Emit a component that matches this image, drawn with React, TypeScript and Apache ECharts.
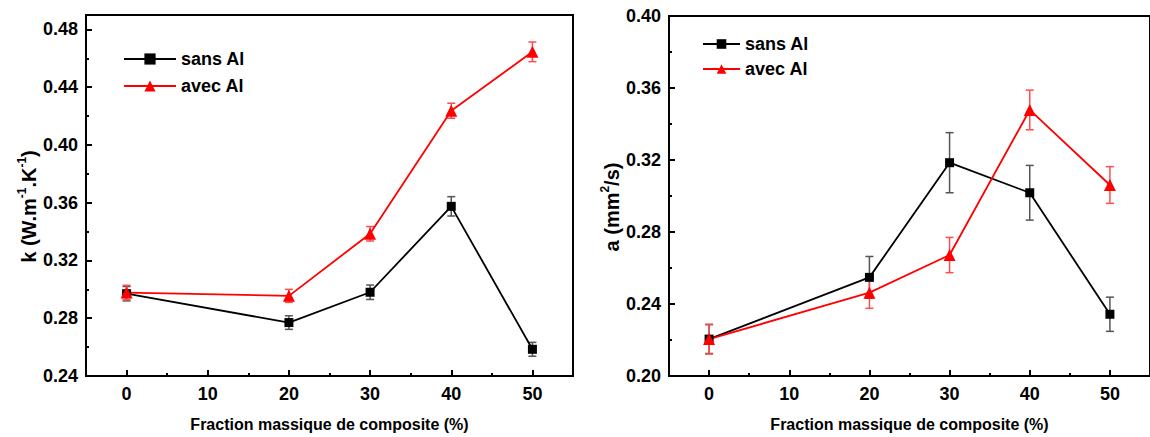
import React, { useEffect, useRef } from "react";
import * as echarts from "echarts";

const fractions = [0, 20, 30, 40, 50];
const xMajorTicks = [0, 10, 20, 30, 40, 50];
const xMinorTicks = [5, 15, 25, 35, 45];

const kSans = [0.297, 0.277, 0.298, 0.3575, 0.2585];
const kSansErr = [0.005, 0.0047, 0.005, 0.0067, 0.0048];
const kAvec = [0.2978, 0.2955, 0.3385, 0.4237, 0.4645];
const kAvecErr = [0.005, 0.0045, 0.005, 0.0052, 0.0068];
const kMajorTicks = [0.24, 0.28, 0.32, 0.36, 0.4, 0.44, 0.48];
const kMinorTicks = [0.26, 0.3, 0.34, 0.38, 0.42, 0.46];

const aSans = [0.2205, 0.2548, 0.3185, 0.3018, 0.2343];
const aSansErr = [0.008, 0.0116, 0.0167, 0.0152, 0.0095];
const aAvec = [0.2205, 0.2463, 0.2672, 0.3478, 0.3061];
const aAvecErr = [0.0083, 0.0087, 0.0098, 0.011, 0.0102];
const aMajorTicks = [0.2, 0.24, 0.28, 0.32, 0.36, 0.4];
const aMinorTicks = [0.22, 0.26, 0.3, 0.34, 0.38];

const FONT = "'Liberation Sans', Arial, sans-serif";

function pairs(xs: number[], ys: number[]) {
  return xs.map((x, i) => [x, ys[i]]);
}
function errData(xs: number[], ys: number[], es: number[]) {
  return xs.map((x, i) => [x, ys[i] - es[i], ys[i] + es[i]]);
}

function errSeries(data: number[][], color: string, xi: number, yi: number) {
  return {
    type: "custom",
    xAxisIndex: xi,
    yAxisIndex: yi,
    data,
    encode: { x: 0, y: [1, 2] },
    z: 1,
    silent: true,
    renderItem: (params: any, api: any) => {
      const x = api.value(0);
      const lo = api.value(1);
      const hi = api.value(2);
      const t = api.coord([x, hi]);
      const b = api.coord([x, lo]);
      const w = 4;
      const style = { stroke: color, lineWidth: 1.5 };
      return {
        type: "group",
        children: [
          { type: "line", shape: { x1: t[0], y1: t[1], x2: b[0], y2: b[1] }, style },
          { type: "line", shape: { x1: t[0] - w, y1: t[1], x2: t[0] + w, y2: t[1] }, style },
          { type: "line", shape: { x1: b[0] - w, y1: b[1], x2: b[0] + w, y2: b[1] }, style },
        ],
      };
    },
  };
}

function mainX(gridIndex: number, name: string) {
  return {
    type: "value",
    gridIndex,
    min: -5,
    max: 55,
    position: "bottom",
    name,
    nameLocation: "middle",
    nameGap: 40,
    nameTextStyle: { fontFamily: FONT, fontSize: 16, fontWeight: "bold", color: "#000" },
    axisLine: { show: true, onZero: false, lineStyle: { color: "#000", width: 2 } },
    axisTick: { show: true, inside: true, length: 6, customValues: xMajorTicks, lineStyle: { color: "#000", width: 2 } },
    axisLabel: {
      show: true,
      customValues: xMajorTicks,
      margin: 9,
      fontFamily: FONT,
      fontSize: 18,
      fontWeight: "bold",
      color: "#000",
    },
    splitLine: { show: false },
  };
}
function minorX(gridIndex: number) {
  return {
    type: "value",
    gridIndex,
    min: -5,
    max: 55,
    position: "bottom",
    axisLine: { show: false, onZero: false },
    axisTick: { show: true, inside: true, length: 3, customValues: xMinorTicks, lineStyle: { color: "#000", width: 2 } },
    axisLabel: { show: false },
    splitLine: { show: false },
  };
}
function mainY(gridIndex: number, min: number, max: number, ticks: number[], name: string, nameGap: number, shift: number) {
  return {
    type: "value",
    gridIndex,
    min,
    max,
    position: "left",
    name,
    nameLocation: "middle",
    nameGap,
    nameTextStyle: {
      fontFamily: FONT,
      fontSize: 20,
      fontWeight: "bold",
      color: "#000",
      padding: [0, shift, 0, 0],
      rich: {
        m: { fontFamily: FONT, fontSize: 20, fontWeight: "bold", color: "#000", lineHeight: 26, verticalAlign: "middle" },
        s: { fontFamily: FONT, fontSize: 12, fontWeight: "bold", color: "#000", lineHeight: 12, verticalAlign: "top" },
      },
    },
    axisLine: { show: true, onZero: false, lineStyle: { color: "#000", width: 2 } },
    axisTick: { show: true, inside: true, length: 6, customValues: ticks, lineStyle: { color: "#000", width: 2 } },
    axisLabel: {
      show: true,
      customValues: ticks,
      margin: 8,
      fontFamily: FONT,
      fontSize: 18,
      fontWeight: "bold",
      color: "#000",
      formatter: (v: number) => v.toFixed(2),
    },
    splitLine: { show: false },
  };
}
function minorY(gridIndex: number, min: number, max: number, ticks: number[]) {
  return {
    type: "value",
    gridIndex,
    min,
    max,
    position: "left",
    axisLine: { show: false, onZero: false },
    axisTick: { show: true, inside: true, length: 3, customValues: ticks, lineStyle: { color: "#000", width: 2 } },
    axisLabel: { show: false },
    splitLine: { show: false },
  };
}

function lineSeries(name: string, data: number[][], color: string, symbol: string, size: number, xi: number, yi: number) {
  return {
    type: "line",
    name,
    xAxisIndex: xi,
    yAxisIndex: yi,
    data,
    symbol,
    symbolSize: size,
    showAllSymbol: true,
    z: 3,
    lineStyle: { color, width: 1.8 },
    itemStyle: { color },
  };
}

export default function App() {
  const ref = useRef<HTMLDivElement>(null);
  useEffect(() => {
    if (!ref.current) return;
    const chart = echarts.init(ref.current, null, { renderer: "svg" });
    const xTitle = "Fraction massique de composite (%)";
    chart.setOption({
      animation: false,
      backgroundColor: "#fff",
      grid: [
        { left: 86, top: 15, width: 487, height: 362, show: true, borderColor: "#000", borderWidth: 2, backgroundColor: "transparent" },
        { left: 669, top: 16, width: 486, height: 360, show: true, borderColor: "#000", borderWidth: 2, backgroundColor: "transparent" },
      ],
      legend: [
        {
          left: 123,
          top: 50,
          padding: 0,
          orient: "vertical",
          itemWidth: 52,
          itemHeight: 14,
          itemGap: 9,
          data: ["sans Al", "avec Al"],
          textStyle: { fontFamily: FONT, fontSize: 18, fontWeight: "bold", color: "#000" },
          selectedMode: false,
        },
        {
          left: 702,
          top: 35,
          padding: 0,
          orient: "vertical",
          itemWidth: 37,
          itemHeight: 12,
          itemGap: 7,
          data: ["sans Al", "avec Al"],
          textStyle: { fontFamily: FONT, fontSize: 18, fontWeight: "bold", color: "#000" },
          selectedMode: false,
        },
      ],
      xAxis: [mainX(0, xTitle), minorX(0), mainX(1, xTitle), minorX(1)],
      yAxis: [
        mainY(0, 0.24, 0.49, kMajorTicks, "{m|k (W.m}{s|-1}{m|.K}{s|-1}{m|)}", 41, 22),
        minorY(0, 0.24, 0.49, kMinorTicks),
        mainY(1, 0.2, 0.4, aMajorTicks, "{m|a (mm}{s|2}{m|/s)}", 44, 22),
        minorY(1, 0.2, 0.4, aMinorTicks),
      ],
      series: [
        errSeries(errData(fractions, kSans, kSansErr), "#555", 0, 0),
        errSeries(errData(fractions, kAvec, kAvecErr), "#ff4d4d", 0, 0),
        lineSeries("sans Al", pairs(fractions, kSans), "#000", "rect", 9, 0, 0),
        lineSeries("avec Al", pairs(fractions, kAvec), "#ff0000", "triangle", 12, 0, 0),
        errSeries(errData(fractions, aSans, aSansErr), "#555", 2, 2),
        errSeries(errData(fractions, aAvec, aAvecErr), "#ff4d4d", 2, 2),
        lineSeries("sans Al", pairs(fractions, aSans), "#000", "rect", 9, 2, 2),
        lineSeries("avec Al", pairs(fractions, aAvec), "#ff0000", "triangle", 12, 2, 2),
      ],
    });
    return () => chart.dispose();
  }, []);
  return <div ref={ref} style={{ position: "absolute", left: 0, top: 0, width: 1150, height: 437 }} />;
}
